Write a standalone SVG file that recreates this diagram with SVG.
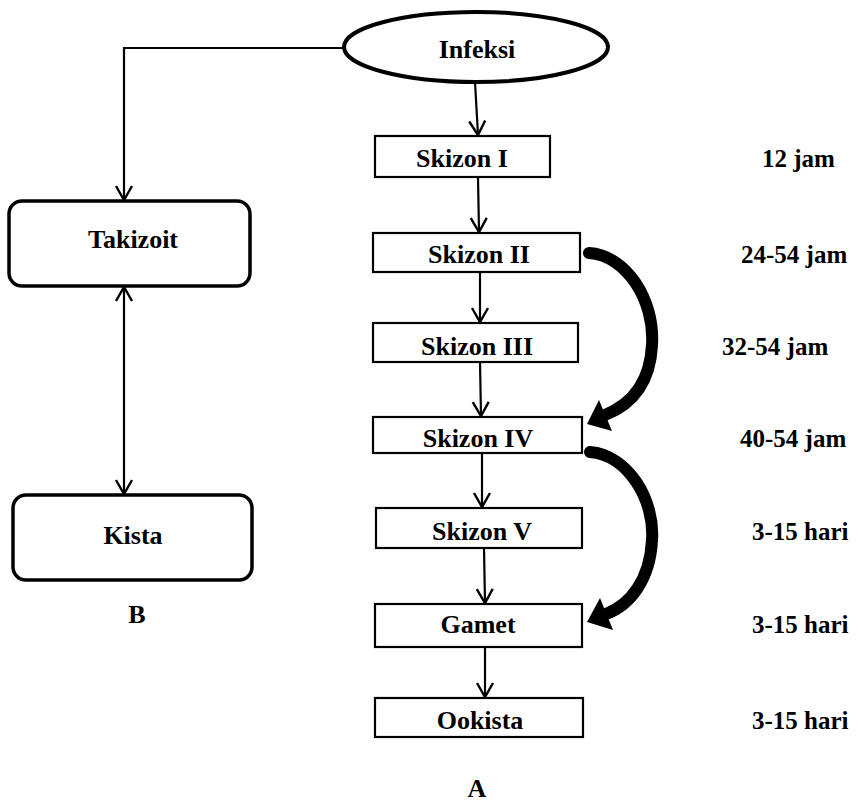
<svg xmlns="http://www.w3.org/2000/svg" width="860" height="802" viewBox="0 0 860 802">
<style>
text{font-family:"Liberation Serif","Times New Roman",serif;font-weight:bold;font-size:25px;fill:#000}
.c{text-anchor:middle;font-size:26px}
.box{fill:#fff;stroke:#000;stroke-width:2.2}
.rbox{fill:#fff;stroke:#000;stroke-width:3.5}
.ln{fill:none;stroke:#000;stroke-width:2.2}
.thick{fill:none;stroke:#000;stroke-width:12;stroke-linecap:round}
.head{fill:#000}
</style>
<defs>
<marker id="open" markerUnits="userSpaceOnUse" markerWidth="20" markerHeight="20" refX="16" refY="10" orient="auto-start-reverse" overflow="visible">
<path d="M2,2 L16,10 L2,18" fill="none" stroke="#000" stroke-width="2.4"/>
</marker>
</defs>
<rect width="860" height="802" fill="#fff"/>
<g id="connectors">
<path class="ln" d="M343,48 L124,48 L124,200" marker-end="url(#open)"/>
<path class="ln" d="M124,287 L124,494" marker-start="url(#open)" marker-end="url(#open)"/>
<path class="ln" d="M475,82 L478,135" marker-end="url(#open)"/>
<path class="ln" d="M478,177 L479,232" marker-end="url(#open)"/>
<path class="ln" d="M480,272 L480,322" marker-end="url(#open)"/>
<path class="ln" d="M480,362 L481,416" marker-end="url(#open)"/>
<path class="ln" d="M482,453 L482,507" marker-end="url(#open)"/>
<path class="ln" d="M484,548 L485,603" marker-end="url(#open)"/>
<path class="ln" d="M485,647 L485,697" marker-end="url(#open)"/>
<path class="thick" d="M589,253 C626,255 655,300 652,345 C650,385 630,405 605,415"/>
<path class="head" d="M587,424 L599,400 L612,431 Z"/>
<path class="thick" d="M590,452 C628,455 655,500 652,540 C650,580 630,605 606,614"/>
<path class="head" d="M587,622 L600,598 L613,630 Z"/>
</g>
<g id="infeksi">
<ellipse cx="476" cy="47" rx="132" ry="35" fill="#fff" stroke="#000" stroke-width="4"/>
<text class="c" x="477" y="58">Infeksi</text>
</g>
<g id="takizoit">
<rect class="rbox" x="9" y="201" width="241" height="85" rx="13"/>
<text class="c" x="133" y="248">Takizoit</text>
</g>
<g id="kista">
<rect class="rbox" x="13" y="495" width="239" height="85" rx="13"/>
<text class="c" x="133" y="544">Kista</text>
</g>
<text id="label-b" class="c" x="137" y="623">B</text>
<g id="skizon1">
<rect class="box" x="375" y="136" width="175" height="41"/>
<text class="c" x="462" y="167">Skizon I</text>
</g>
<g id="skizon2">
<rect class="box" x="373" y="233" width="207" height="39"/>
<text class="c" x="479" y="263">Skizon II</text>
</g>
<g id="skizon3">
<rect class="box" x="373" y="323" width="205" height="39"/>
<text class="c" x="477" y="355">Skizon III</text>
</g>
<g id="skizon4">
<rect class="box" x="373" y="417" width="209" height="36"/>
<text class="c" x="478" y="447">Skizon IV</text>
</g>
<g id="skizon5">
<rect class="box" x="376" y="508" width="206" height="40"/>
<text class="c" x="482" y="540">Skizon V</text>
</g>
<g id="gamet">
<rect class="box" x="375" y="604" width="207" height="43"/>
<text class="c" x="478" y="633">Gamet</text>
</g>
<g id="ookista">
<rect class="box" x="375" y="698" width="208" height="39"/>
<text class="c" x="480" y="729">Ookista</text>
</g>
<text id="label-a" class="c" x="477" y="797">A</text>
<g id="times">
<text x="762" y="167">12 jam</text>
<text x="741" y="263">24-54 jam</text>
<text x="722" y="355">32-54 jam</text>
<text x="740" y="447">40-54 jam</text>
<text x="752" y="540">3-15 hari</text>
<text x="752" y="633">3-15 hari</text>
<text x="752" y="729">3-15 hari</text>
</g>
</svg>
